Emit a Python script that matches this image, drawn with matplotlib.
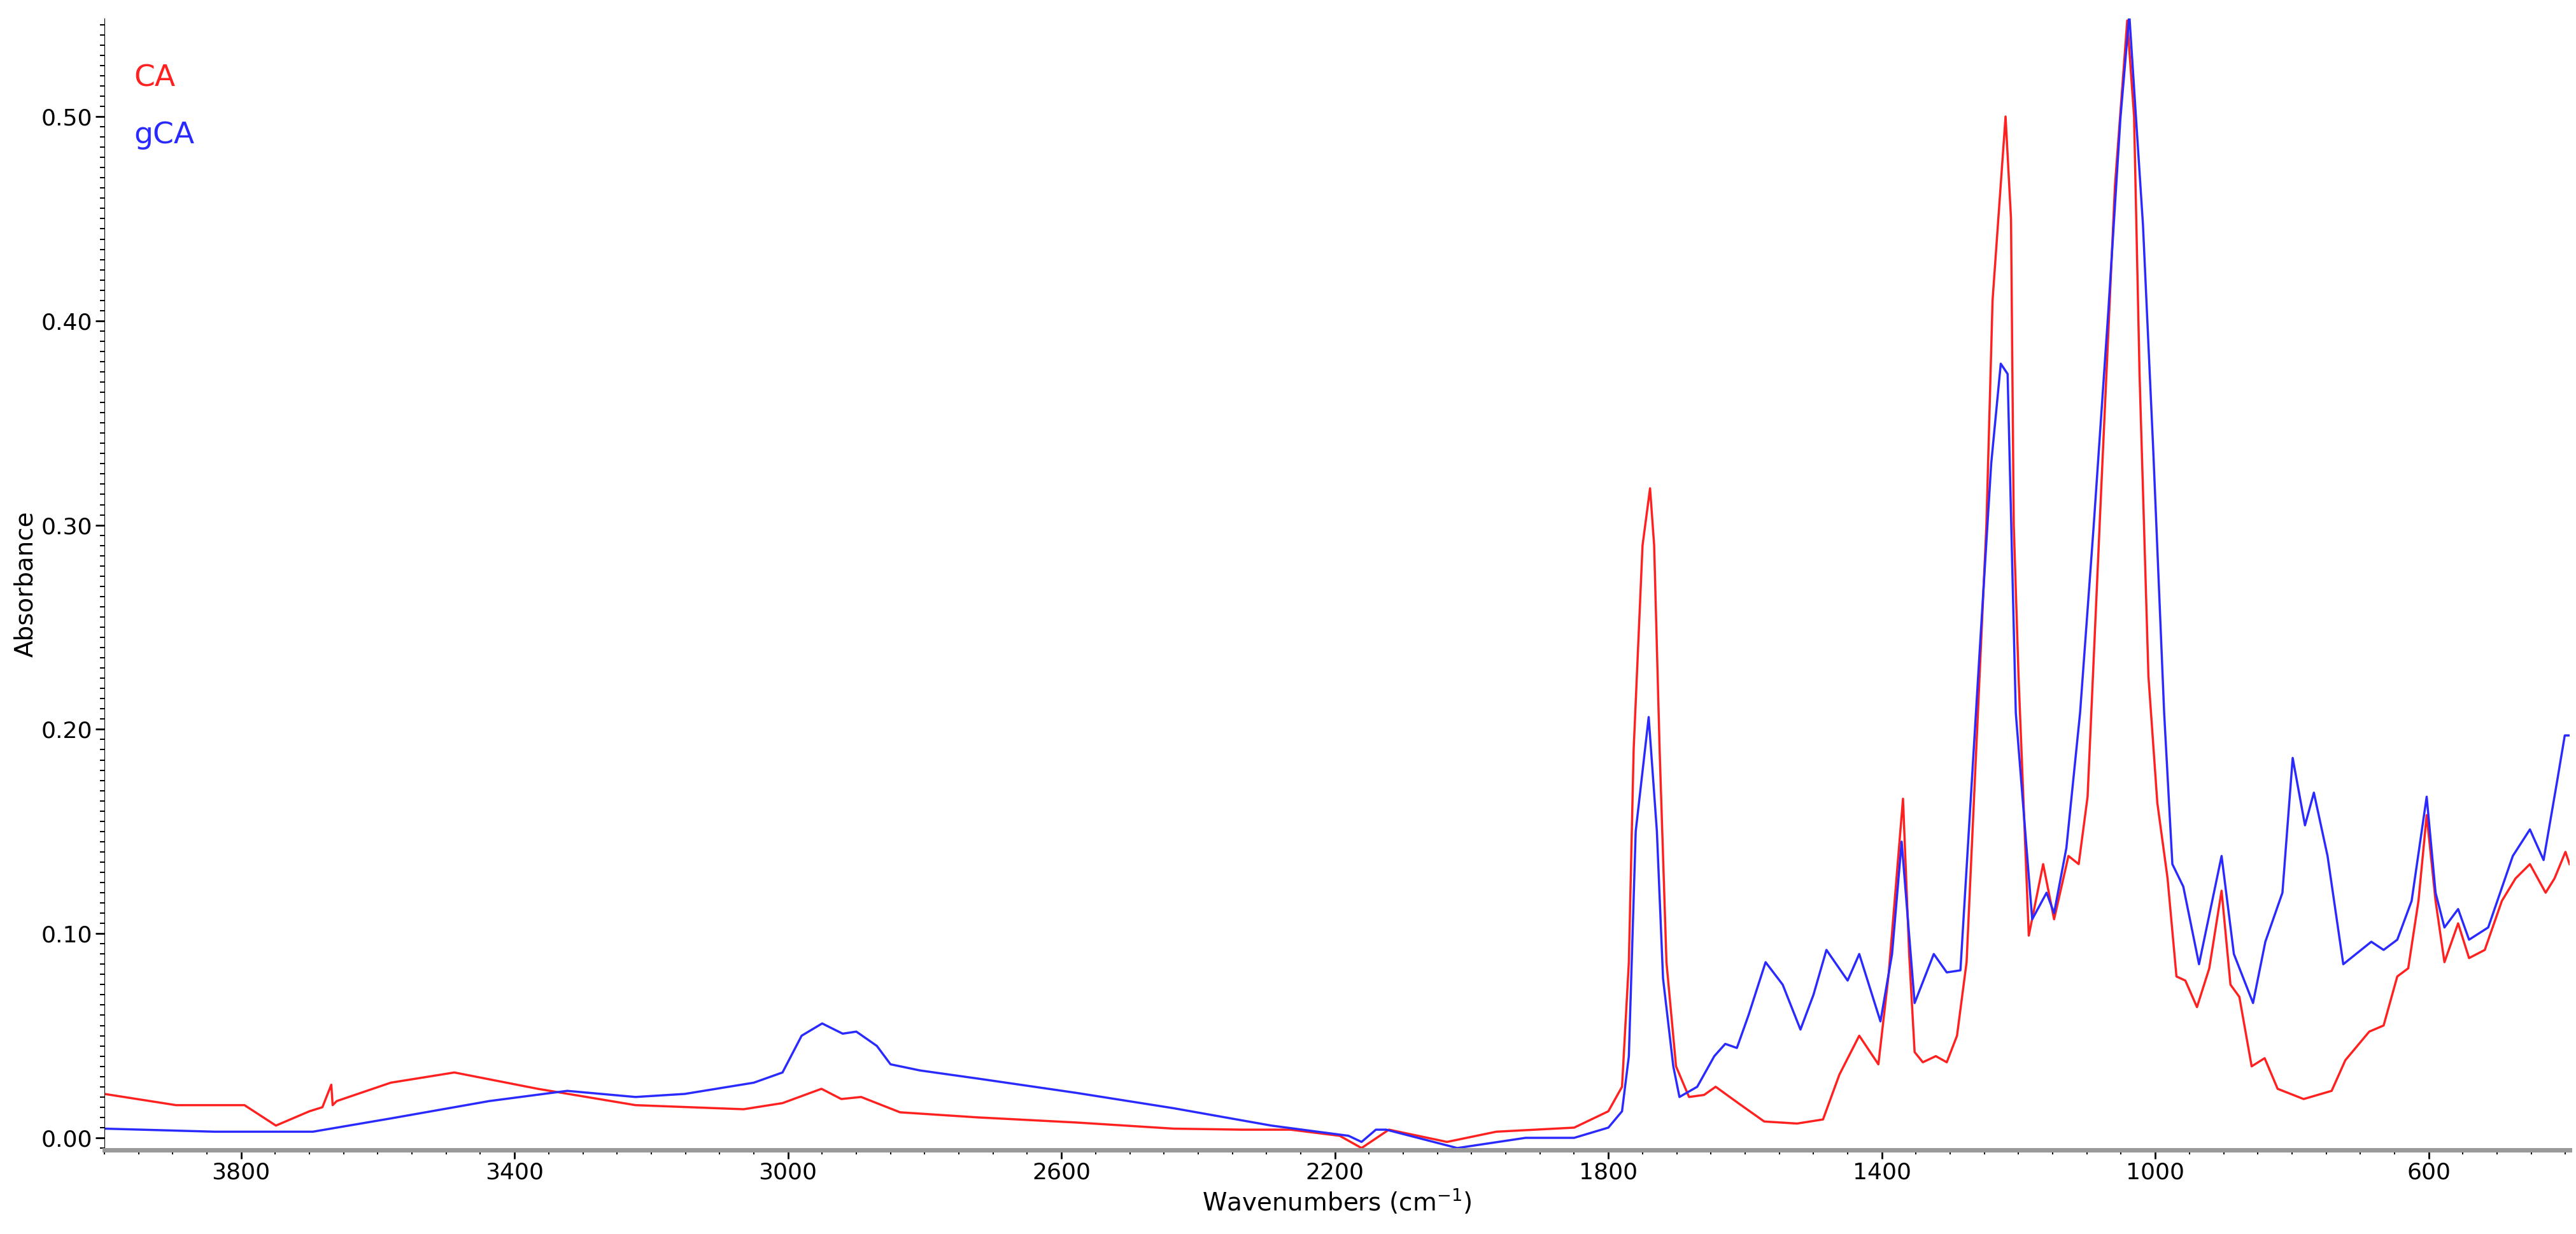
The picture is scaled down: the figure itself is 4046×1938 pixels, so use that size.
import matplotlib
matplotlib.use("Agg")
import matplotlib.pyplot as plt
from matplotlib.ticker import MultipleLocator, FormatStrFormatter, FixedLocator

ca_wn = [4000, 3895, 3795, 3749, 3700, 3681, 3668, 3666, 3660, 3581, 3488, 3366, 3223, 3065, 3008, 2951, 2922, 2893,
         2836, 2722, 2578, 2436, 2336, 2265, 2193, 2161, 2121, 2036, 1964, 1850, 1800, 1780, 1770, 1763, 1750, 1739,
         1733, 1725, 1715, 1701, 1682, 1660, 1643, 1610, 1572, 1524, 1486, 1462, 1433, 1405, 1390, 1369, 1360, 1352,
         1340, 1321, 1305, 1290, 1276, 1257, 1247, 1238, 1219, 1211, 1207, 1200, 1185, 1164, 1148, 1127, 1112, 1099,
         1079, 1059, 1041, 1031, 1023, 1010, 997, 982, 969, 956, 939, 921, 903, 890, 877, 859, 840, 821, 783, 742,
         722, 687, 666, 646, 630, 615, 603, 590, 577, 557, 541, 518, 493, 473, 452, 429, 416, 400, 394]
ca_ab = [0.0215, 0.016, 0.016, 0.006, 0.013, 0.015, 0.026, 0.016, 0.018, 0.027, 0.032, 0.024, 0.016, 0.014, 0.017, 0.024,
         0.019, 0.020, 0.0125, 0.010, 0.0075, 0.0045, 0.004, 0.004, 0.001, -0.005, 0.004, -0.002, 0.003, 0.005, 0.013,
         0.025, 0.086, 0.19, 0.29, 0.318, 0.29, 0.19, 0.086, 0.035, 0.020, 0.021, 0.025, 0.017, 0.008, 0.007, 0.009,
         0.031, 0.050, 0.036, 0.08, 0.166, 0.09, 0.042, 0.037, 0.040, 0.037, 0.050, 0.086, 0.226, 0.30, 0.41, 0.50,
         0.45, 0.30, 0.226, 0.099, 0.134, 0.107, 0.138, 0.134, 0.167, 0.318, 0.466, 0.547, 0.50, 0.374, 0.226, 0.164,
         0.127, 0.079, 0.077, 0.064, 0.083, 0.121, 0.075, 0.069, 0.035, 0.039, 0.024, 0.019, 0.023, 0.038, 0.052, 0.055,
         0.079, 0.083, 0.116, 0.158, 0.116, 0.086, 0.105, 0.088, 0.092, 0.116, 0.127, 0.134, 0.120, 0.127, 0.140, 0.134]

gca_wn = [4000, 3838, 3695, 3581, 3437, 3323, 3223, 3151, 3050, 3008, 2980, 2950, 2920, 2900, 2870, 2850, 2807, 2722,
          2578, 2436, 2293, 2180, 2161, 2140, 2125, 2021, 1921, 1850, 1800, 1780, 1770, 1760, 1741, 1729, 1720, 1705,
          1696, 1670, 1645, 1629, 1612, 1595, 1570, 1545, 1519, 1500, 1481, 1450, 1433, 1402, 1385, 1371, 1352, 1324,
          1305, 1285, 1257, 1240, 1226, 1216, 1204, 1180, 1159, 1148, 1130, 1110, 1090, 1069, 1051, 1038, 1018, 1003,
          987, 975, 959, 936, 903, 885, 857, 839, 814, 799, 781, 768, 748, 725, 684, 666, 646, 625, 603, 590, 577, 557,
          541, 513, 477, 452, 432, 412, 401, 394]
gca_ab = [0.0045, 0.003, 0.003, 0.0095, 0.018, 0.023, 0.020, 0.0215, 0.027, 0.032, 0.050, 0.056, 0.051, 0.052, 0.045,
          0.036, 0.033, 0.029, 0.022, 0.0145, 0.006, 0.001, -0.002, 0.004, 0.004, -0.005, 0.0, 0.000, 0.005, 0.013,
          0.04, 0.15, 0.206, 0.15, 0.078, 0.035, 0.020, 0.025, 0.040, 0.046, 0.044, 0.060, 0.086, 0.075, 0.053, 0.070,
          0.092, 0.077, 0.090, 0.057, 0.090, 0.145, 0.066, 0.090, 0.081, 0.082, 0.2375, 0.33, 0.379, 0.374, 0.208,
          0.107, 0.120, 0.110, 0.142, 0.208, 0.30, 0.403, 0.499, 0.55, 0.447, 0.337, 0.208, 0.134, 0.123, 0.085, 0.138,
          0.090, 0.066, 0.096, 0.120, 0.186, 0.153, 0.169, 0.138, 0.085, 0.096, 0.092, 0.097, 0.116, 0.167, 0.120,
          0.103, 0.112, 0.097, 0.103, 0.138, 0.151, 0.136, 0.175, 0.197, 0.197]

x_ticks = [3800, 3400, 3000, 2600, 2200, 1800, 1400, 1000, 600]

fig = plt.figure(figsize=(40.46, 19.38), dpi=100)
ax = fig.add_axes([0.0405, 0.068, 0.957, 0.917])
ax.plot(ca_wn, ca_ab, color="#ff2020", lw=2.5)
ax.plot(gca_wn, gca_ab, color="#2a2aff", lw=2.5)
ax.set_xlim(4000, 394)
ax.set_ylim(-0.006, 0.548)
for s in ["top", "right"]:
    ax.spines[s].set_visible(False)
ax.spines["bottom"].set_color("#999999")
ax.spines["bottom"].set_linewidth(5)
ax.xaxis.set_major_locator(FixedLocator(x_ticks))
ax.xaxis.set_minor_locator(MultipleLocator(50))
ax.yaxis.set_major_locator(MultipleLocator(0.1))
ax.yaxis.set_minor_locator(MultipleLocator(0.005))
ax.yaxis.set_major_formatter(FormatStrFormatter("%.2f"))
ax.tick_params(axis="both", labelsize=26, length=10, width=2)
ax.tick_params(axis="both", which="minor", length=5, width=1.5)
ax.set_xlabel("Wavenumbers (cm$^{-1}$)", fontsize=28, labelpad=4)
ax.set_ylabel("Absorbance", fontsize=28)
ax.text(0.012, 0.94, "CA", color="#ff2020", fontsize=34, transform=ax.transAxes)
ax.text(0.012, 0.89, "gCA", color="#2a2aff", fontsize=34, transform=ax.transAxes)
fig.savefig("out.png", dpi=100)
